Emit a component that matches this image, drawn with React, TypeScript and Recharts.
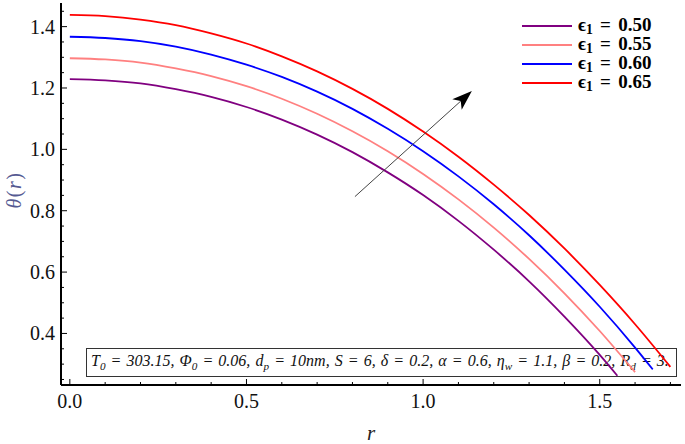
import React from 'react';
import { LineChart, Line, XAxis, YAxis, ReferenceLine, Legend } from 'recharts';

// ---------- data ----------
const epsValues = ['0.50', '0.55', '0.60', '0.65'];
const seriesColors = ['#800080', '#FF8080', '#0000FF', '#FF0000'];

const rPurple = [0, 0.1, 0.2, 0.3, 0.4, 0.5, 0.6, 0.7, 0.8, 0.9, 1.0, 1.1, 1.2, 1.3, 1.4, 1.5, 1.55];
const thetaPurple = [1.229, 1.225, 1.215, 1.196, 1.171, 1.138, 1.097, 1.048, 0.991, 0.925, 0.851, 0.767, 0.673, 0.570, 0.455, 0.330, 0.262];

const rPink = [0, 0.1, 0.2, 0.3, 0.4, 0.5, 0.6, 0.7, 0.8, 0.9, 1.0, 1.1, 1.2, 1.3, 1.4, 1.5, 1.6];
const thetaPink = [1.297, 1.293, 1.283, 1.264, 1.239, 1.206, 1.165, 1.116, 1.059, 0.994, 0.920, 0.837, 0.745, 0.643, 0.531, 0.408, 0.274];

const rBlue = [0, 0.1, 0.2, 0.3, 0.4, 0.5, 0.6, 0.7, 0.8, 0.9, 1.0, 1.1, 1.2, 1.3, 1.4, 1.5, 1.6, 1.65];
const thetaBlue = [1.367, 1.363, 1.353, 1.335, 1.309, 1.276, 1.236, 1.188, 1.132, 1.067, 0.994, 0.912, 0.821, 0.720, 0.608, 0.487, 0.354, 0.283];

const rRed = [0, 0.1, 0.2, 0.3, 0.4, 0.5, 0.6, 0.7, 0.8, 0.9, 1.0, 1.1, 1.2, 1.3, 1.4, 1.5, 1.6, 1.7];
const thetaRed = [1.438, 1.434, 1.423, 1.405, 1.378, 1.345, 1.303, 1.254, 1.197, 1.132, 1.058, 0.976, 0.885, 0.786, 0.677, 0.558, 0.430, 0.291];

const xTicks = [0, 0.1, 0.2, 0.3, 0.4, 0.5, 0.6, 0.7, 0.8, 0.9, 1.0, 1.1, 1.2, 1.3, 1.4, 1.5, 1.6, 1.7];
const yTicks = [0.25, 0.3, 0.35, 0.4, 0.45, 0.5, 0.55, 0.6, 0.65, 0.7, 0.75, 0.8, 0.85, 0.9, 0.95, 1.0, 1.05, 1.1, 1.15, 1.2, 1.25, 1.3, 1.35, 1.4, 1.45];
const xDomain = [-0.025, 1.73];
const yDomain = [0.232, 1.477];

// arrow annotation (data units)
const arrowFrom = { r: 0.807, theta: 0.846 };
const arrowTo = { r: 1.138, theta: 1.19 };

const FONT = '"Liberation Serif", "Times New Roman", serif';

const toRows = (rs: number[], ts: number[]) => rs.map((r, i) => ({ r, theta: ts[i] }));
const seriesData = [
  toRows(rPurple, thetaPurple),
  toRows(rPink, thetaPink),
  toRows(rBlue, thetaBlue),
  toRows(rRed, thetaRed),
];

const isMult = (v: number, step: number) => Math.abs(v / step - Math.round(v / step)) < 1e-6;

// bottom x ticks (inward) with labels
const XTickBottom = (props: any) => {
  const { x, y, payload } = props;
  const v = payload.value;
  const major = isMult(v, 0.5);
  const len = major ? 6 : 3;
  return (
    <g>
      <line x1={x} x2={x} y1={y} y2={y - len} stroke="#000" strokeWidth={1} />
      {major && (
        <text x={x} y={y + 23} textAnchor="middle" fontSize={20} fontFamily={FONT} fill="#111">
          {v.toFixed(1)}
        </text>
      )}
    </g>
  );
};

const XTickTop = (props: any) => {
  const { x, y, payload } = props;
  const len = isMult(payload.value, 0.5) ? 6 : 3;
  return <line x1={x} x2={x} y1={y} y2={y + len} stroke="#000" strokeWidth={1} />;
};

const YTickLeft = (props: any) => {
  const { x, y, payload } = props;
  const v = payload.value;
  const major = isMult(v, 0.2);
  const len = major ? 6 : 3;
  return (
    <g>
      <line x1={x} x2={x + len} y1={y} y2={y} stroke="#000" strokeWidth={1} />
      {major && (
        <text x={x - 6} y={y} dy="0.35em" textAnchor="end" fontSize={20} fontFamily={FONT} fill="#111">
          {v.toFixed(1)}
        </text>
      )}
    </g>
  );
};

const YTickRight = (props: any) => {
  const { x, y, payload } = props;
  const len = isMult(payload.value, 0.2) ? 6 : 3;
  return <line x1={x} x2={x - len} y1={y} y2={y} stroke="#000" strokeWidth={1} />;
};

const YLabel = (props: any) => {
  const vb = props.viewBox || { x: 0, y: 3, width: 61, height: 382 };
  const cx = 14;
  const cy = vb.y + vb.height / 2 - 4;
  return (
    <text
      x={cx}
      y={cy}
      dy="0.35em"
      textAnchor="middle"
      transform={`rotate(-90 ${cx} ${cy})`}
      fontSize={20}
      fontFamily={FONT}
      fill="#555a92"
      letterSpacing={1.5}
    >
      <tspan fontStyle="italic">θ</tspan>
      <tspan>(</tspan>
      <tspan fontStyle="italic">r</tspan>
      <tspan>)</tspan>
    </text>
  );
};

const XLabel = (props: any) => {
  const vb = props.viewBox || { x: 61, y: 385, width: 620, height: 59 };
  return (
    <text
      x={vb.x + vb.width / 2}
      y={vb.y + 55}
      textAnchor="middle"
      fontSize={21}
      fontStyle="italic"
      fontFamily={FONT}
      fill="#222"
    >
      r
    </text>
  );
};

const ArrowShape = (props: any) => {
  const { x1, y1, x2, y2 } = props;
  if ([x1, y1, x2, y2].some((v) => typeof v !== 'number' || isNaN(v))) return null;
  const dx = x2 - x1;
  const dy = y2 - y1;
  const L = Math.hypot(dx, dy) || 1;
  const ux = dx / L;
  const uy = dy / L;
  const px = -uy;
  const py = ux;
  const headLen = 20;
  const headW = 7;
  const notch = 5;
  const bx = x2 - ux * headLen;
  const by = y2 - uy * headLen;
  const nx = x2 - ux * (headLen - notch);
  const ny = y2 - uy * (headLen - notch);
  const pts = `${x2},${y2} ${bx + px * headW},${by + py * headW} ${nx},${ny} ${bx - px * headW},${by - py * headW}`;
  return (
    <g>
      <line x1={x1} y1={y1} x2={nx} y2={ny} stroke="#444" strokeWidth={1} />
      <polygon points={pts} fill="#000" />
    </g>
  );
};

const LegendContent = (props: any) => {
  const payload = props.payload || [];
  return (
    <div style={{ fontFamily: FONT, fontWeight: 'bold', fontSize: 19, lineHeight: '19px', color: '#000' }}>
      {payload.map((p: any) => (
        <div key={p.value} style={{ display: 'flex', alignItems: 'center', height: 19, whiteSpace: 'nowrap' }}>
          <span style={{ display: 'inline-block', width: 50, height: 0, borderTop: `2px solid ${p.color}`, marginRight: 6 }} />
          <span style={{ lineHeight: '19px', wordSpacing: 2.5 }}>
            ϵ<span style={{ fontSize: '0.72em', position: 'relative', top: '0.25em' }}>1</span> = {p.value}
          </span>
        </div>
      ))}
    </div>
  );
};

export default function App() {
  return (
    <div style={{ position: 'absolute', left: 0, top: 0, width: 685, height: 444, background: '#fff' }}>
      <div
        style={{
          position: 'absolute',
          left: 86,
          top: 348,
          width: 591,
          height: 29,
          boxSizing: 'border-box',
          border: '1px solid #333',
          background: '#fff',
          fontFamily: FONT,
          fontStyle: 'italic',
          fontSize: 16,
          color: '#111',
          display: 'flex',
          alignItems: 'center',
          paddingLeft: 4,
          whiteSpace: 'nowrap',
          wordSpacing: 1.1,
        }}
      >
        <span>
          T<sub style={{ fontSize: '0.7em' }}>0</sub> = 303.15, Φ<sub style={{ fontSize: '0.7em' }}>0</sub> = 0.06, d
          <sub style={{ fontSize: '0.7em' }}>p</sub> = 10nm, S = 6, δ = 0.2, α = 0.6, η
          <sub style={{ fontSize: '0.7em' }}>w</sub> = 1.1, β = 0.2, R<sub style={{ fontSize: '0.7em' }}>d</sub> = 3.
        </span>
      </div>
      <div style={{ position: 'absolute', left: 0, top: 0 }}>
        <LineChart width={685} height={444} margin={{ top: 3, right: 4, bottom: 0, left: 0 }}>
          <XAxis
            dataKey="r"
            type="number"
            domain={xDomain}
            allowDataOverflow
            ticks={xTicks}
            interval={0}
            tickSize={0}
            tickMargin={0}
            tickLine={false}
            axisLine={{ stroke: '#000', strokeWidth: 2 }}
            height={59}
            tick={<XTickBottom />}
            label={<XLabel />}
          />
          <XAxis
            xAxisId="top"
            orientation="top"
            type="number"
            domain={xDomain}
            allowDataOverflow
            ticks={xTicks}
            interval={0}
            tickSize={0}
            tickMargin={0}
            tickLine={false}
            axisLine={{ stroke: '#000', strokeWidth: 2 }}
            height={0}
            tick={<XTickTop />}
          />
          <YAxis
            type="number"
            domain={yDomain}
            allowDataOverflow
            ticks={yTicks}
            interval={0}
            tickSize={0}
            tickMargin={0}
            tickLine={false}
            axisLine={{ stroke: '#000', strokeWidth: 2 }}
            width={61}
            tick={<YTickLeft />}
            label={<YLabel />}
          />
          <YAxis
            yAxisId="right"
            orientation="right"
            type="number"
            domain={yDomain}
            allowDataOverflow
            ticks={yTicks}
            interval={0}
            tickSize={0}
            tickMargin={0}
            tickLine={false}
            axisLine={{ stroke: '#000', strokeWidth: 2 }}
            width={0}
            tick={<YTickRight />}
          />
          {seriesData.map((d, i) => (
            <Line
              key={epsValues[i]}
              data={d}
              dataKey="theta"
              name={epsValues[i]}
              type="monotone"
              stroke={seriesColors[i]}
              strokeWidth={1.8}
              dot={false}
              activeDot={false}
              isAnimationActive={false}
            />
          ))}
          <ReferenceLine
            segment={[
              { x: arrowFrom.r, y: arrowFrom.theta },
              { x: arrowTo.r, y: arrowTo.theta },
            ]}
            stroke="#444"
            ifOverflow="visible"
            shape={(p: any) => <ArrowShape {...p} />}
          />
          <Legend
            layout="horizontal"
            verticalAlign="middle"
            align="center"
            content={<LegendContent />}
            wrapperStyle={{ left: 522, top: 16, width: 160, height: 'auto' }}
          />
        </LineChart>
      </div>
    </div>
  );
}
